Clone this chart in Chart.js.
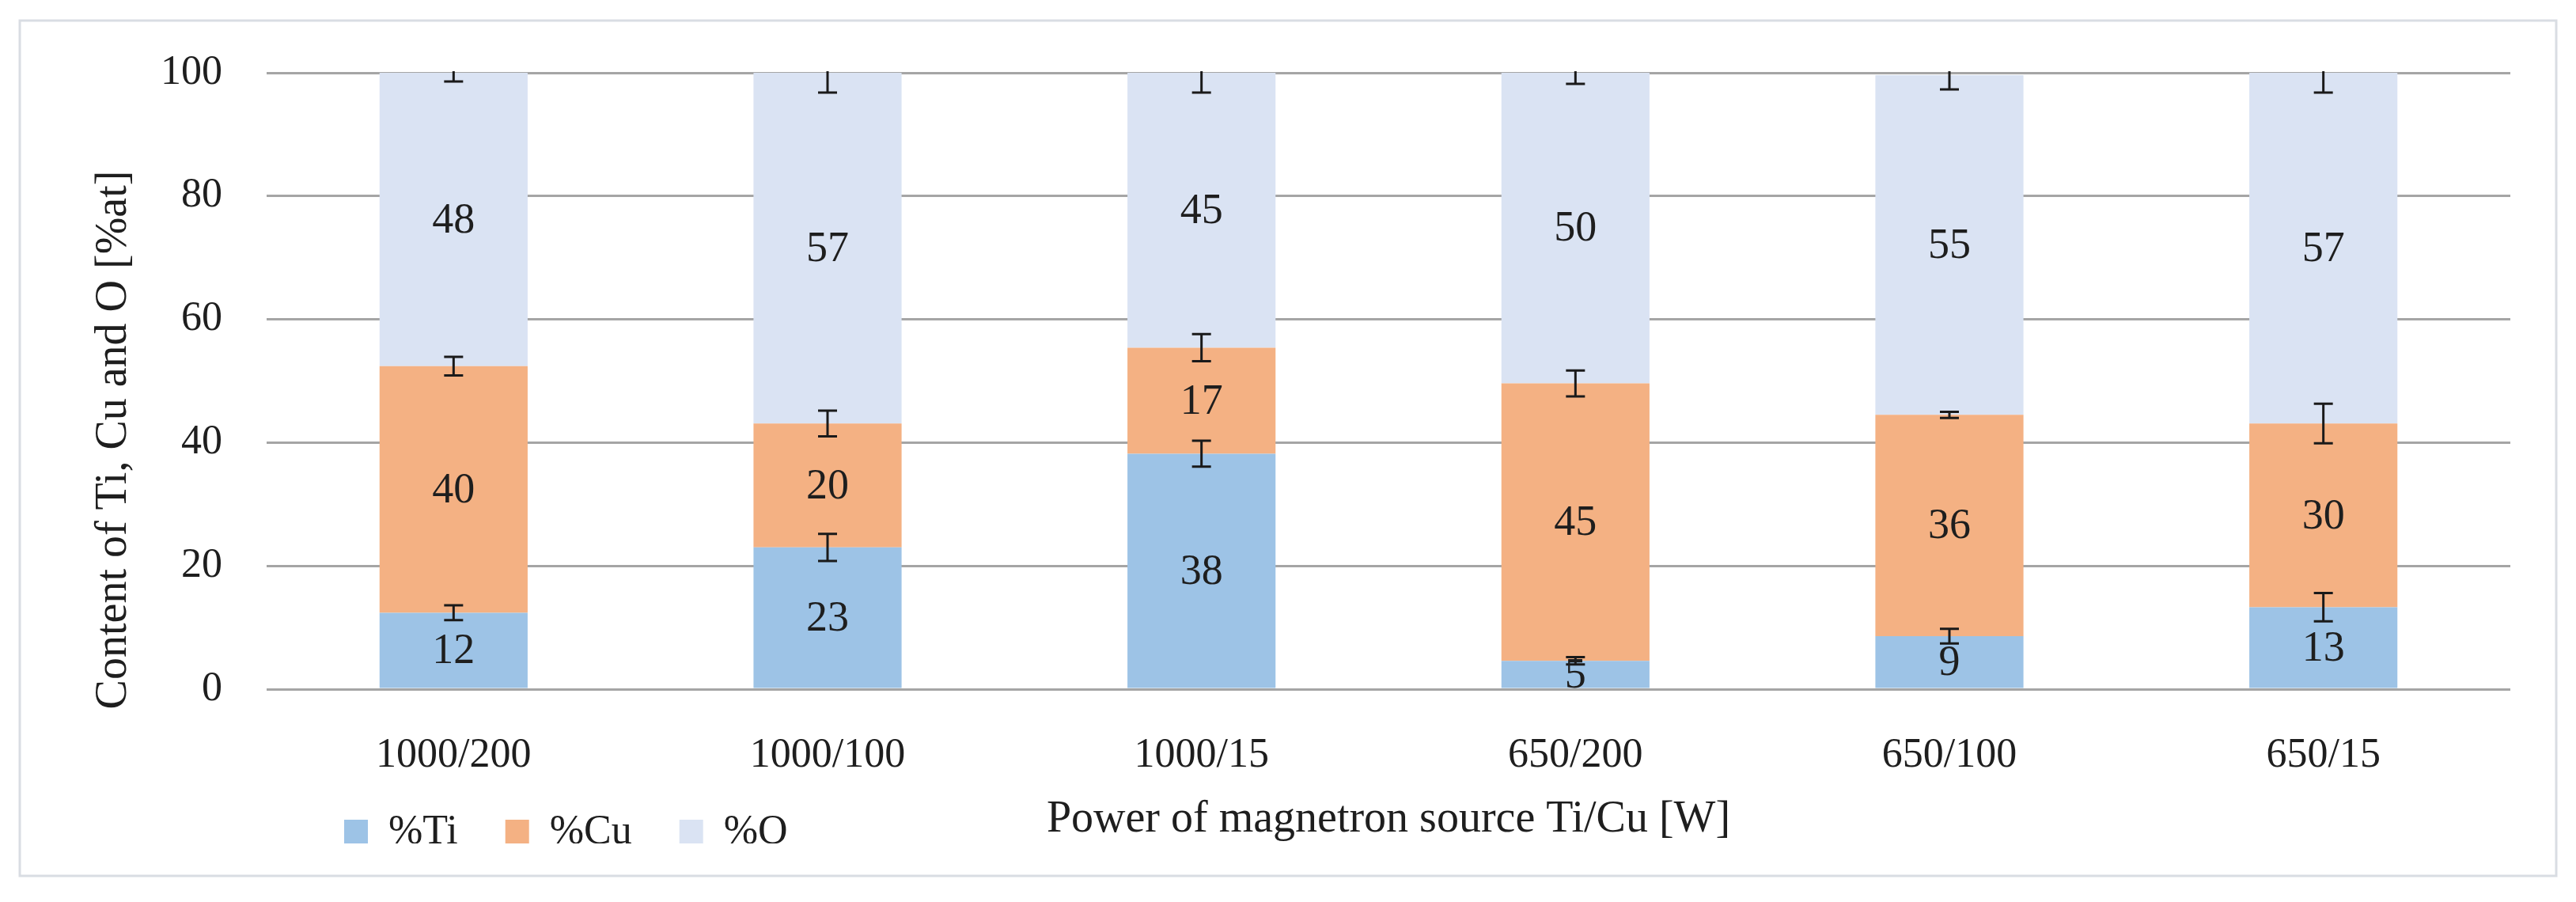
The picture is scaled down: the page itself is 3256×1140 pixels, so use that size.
<!DOCTYPE html>
<html>
<head>
<meta charset="utf-8">
<script src="https://cdn.jsdelivr.net/npm/chart.js@4.4.1/dist/chart.umd.min.js"></script>
<style>
    html, body { margin: 0; padding: 0; background: #fff; }
    #wrap { width: 3256px; height: 1140px; }
</style>
</head>
<body>
<div id="wrap"><canvas id="chart" width="3256" height="1140"></canvas></div>
<script>
// Data
const categories = ['1000/200', '1000/100', '1000/15', '650/200', '650/100', '650/15'];
const tiValues = [12.4, 23.0, 38.2, 4.6, 8.6, 13.3];
const cuValues = [40.0, 20.1, 17.2, 45.0, 35.9, 29.8];
const oValues = [47.6, 56.9, 44.6, 50.4, 55.1, 56.9];
const tiErrors = [1.2, 2.2, 2.1, 0.6, 1.2, 2.3];
const cuErrors = [1.5, 2.1, 2.2, 2.1, 0.5, 3.2];
const oErrors = [1.4, 3.2, 3.2, 1.8, 2.3, 3.2];
const yTicks = [0, 20, 40, 60, 80, 100];
const seriesNames = ['%Ti', '%Cu', '%O'];
const xTitle = 'Power of magnetron source Ti/Cu [W]';
const yTitle = 'Content of Ti, Cu and O [%at]';

const FONT = "'Liberation Serif', 'Times New Roman', serif";
const TEXT = '#1e1e1e';

Chart.defaults.font.family = FONT;
Chart.defaults.color = TEXT;

// White page with the thin grey frame
const frame = {
    id: 'frame',
    beforeDraw(chart) {
        const ctx = chart.ctx;
        ctx.save();
        ctx.fillStyle = '#ffffff';
        ctx.fillRect(0, 0, chart.width, chart.height);
        ctx.strokeStyle = '#d9dde3';
        ctx.lineWidth = 3;
        ctx.strokeRect(25, 26, 3206, 1081);
        ctx.restore();
    }
};

// Legend sits on the same row as the x title, at the left
const legendPlace = {
    id: 'legendPlace',
    afterLayout(chart) {
        const lg = chart.legend;
        const w = lg.width;
        const h = lg.height;
        lg.left = 375;
        lg.right = 375 + w;
        lg.top = 966;
        lg.bottom = 966 + h;
    }
};

// Error bars and value labels
const barExtras = {
    id: 'barExtras',
    afterDatasetsDraw(chart) {
        const { ctx, chartArea } = chart;
        const y = chart.scales.y;
        const sets = chart.data.datasets;

        ctx.save();
        ctx.beginPath();
        ctx.rect(chartArea.left, chartArea.top - 2, chartArea.right - chartArea.left, chartArea.bottom - chartArea.top + 4);
        ctx.clip();
        ctx.strokeStyle = '#1a1a1a';
        ctx.lineWidth = 3;
        sets.forEach((ds, di) => {
            const meta = chart.getDatasetMeta(di);
            meta.data.forEach((bar, i) => {
                let top = 0;
                for (let k = 0; k <= di; k++) top += sets[k].data[i];
                const e = ds.errors[i];
                const yHi = y.getPixelForValue(top + e);
                const yLo = y.getPixelForValue(top - e);
                ctx.beginPath();
                ctx.moveTo(bar.x, yHi);
                ctx.lineTo(bar.x, yLo);
                ctx.moveTo(bar.x - 12, yHi);
                ctx.lineTo(bar.x + 12, yHi);
                ctx.moveTo(bar.x - 12, yLo);
                ctx.lineTo(bar.x + 12, yLo);
                ctx.stroke();
            });
        });
        ctx.restore();

        ctx.save();
        ctx.fillStyle = TEXT;
        ctx.font = '54px ' + FONT;
        ctx.textAlign = 'center';
        ctx.textBaseline = 'middle';
        sets.forEach((ds, di) => {
            const meta = chart.getDatasetMeta(di);
            meta.data.forEach((bar, i) => {
                const mid = (bar.y + bar.base) / 2;
                ctx.fillText(String(Math.round(ds.data[i])), bar.x, mid + 2);
            });
        });
        ctx.restore();
    }
};

// Axis titles
const axisTitles = {
    id: 'axisTitles',
    afterDraw(chart) {
        const { ctx, chartArea } = chart;
        ctx.save();
        ctx.fillStyle = TEXT;
        ctx.font = '56px ' + FONT;
        ctx.textAlign = 'center';
        ctx.textBaseline = 'middle';
        ctx.fillText(xTitle, (chartArea.left + chartArea.right) / 2, 1036);
        ctx.translate(144, 556);
        ctx.rotate(-Math.PI / 2);
        ctx.fillText(yTitle, 0, 0);
        ctx.restore();
    }
};

new Chart(document.getElementById('chart'), {
    type: 'bar',
    data: {
        labels: categories,
        datasets: [
            {
                label: seriesNames[0],
                data: tiValues,
                errors: tiErrors,
                backgroundColor: '#9dc3e6',
                borderColor: '#9dc3e6',
                borderWidth: 0
            },
            {
                label: seriesNames[1],
                data: cuValues,
                errors: cuErrors,
                backgroundColor: '#f4b183',
                borderColor: '#f4b183',
                borderWidth: 0
            },
            {
                label: seriesNames[2],
                data: oValues,
                errors: oErrors,
                backgroundColor: '#dae3f3',
                borderColor: '#dae3f3',
                borderWidth: 0
            }
        ]
    },
    options: {
        responsive: false,
        devicePixelRatio: 1,
        animation: false,
        layout: {
            padding: { left: 0, right: 83, top: 92, bottom: 0 }
        },
        datasets: {
            bar: {
                categoryPercentage: 1,
                barPercentage: 0.396
            }
        },
        plugins: {
            legend: {
                position: 'bottom',
                align: 'start',
                maxHeight: 100,
                labels: {
                    boxWidth: 30,
                    boxHeight: 32,
                    padding: 60,
                    color: TEXT,
                    font: { size: 52 }
                }
            },
            tooltip: { enabled: false }
        },
        scales: {
            x: {
                stacked: true,
                grid: { display: false },
                border: { display: false },
                ticks: {
                    color: TEXT,
                    font: { size: 52 },
                    padding: 45,
                    maxRotation: 0
                },
                afterFit(scale) {
                    scale.height = 169;
                }
            },
            y: {
                stacked: true,
                min: 0,
                max: 100,
                grid: {
                    color: '#a5a5a5',
                    lineWidth: 3,
                    drawTicks: false
                },
                border: { display: false },
                ticks: {
                    color: TEXT,
                    font: { size: 52 },
                    padding: 56
                },
                afterBuildTicks(scale) {
                    scale.ticks = yTicks.map(v => ({ value: v }));
                },
                afterFit(scale) {
                    scale.width = 337;
                }
            }
        }
    },
    plugins: [frame, legendPlace, barExtras, axisTitles]
});
</script>
</body>
</html>
